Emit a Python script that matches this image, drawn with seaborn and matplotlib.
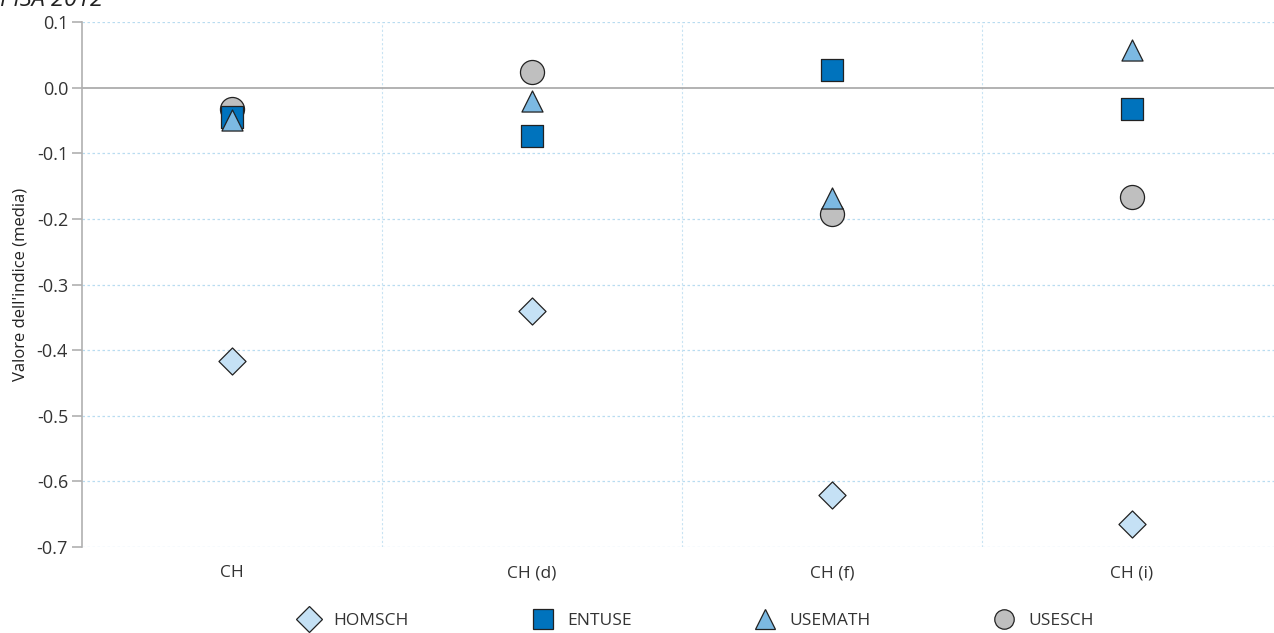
import matplotlib
matplotlib.use("Agg")
import matplotlib.pyplot as plt
import seaborn as sns
import pandas as pd
from matplotlib.lines import Line2D

categories = ["CH", "CH (d)", "CH (f)", "CH (i)"]
series = ["HOMSCH", "ENTUSE", "USEMATH", "USESCH"]
homsch = [-0.417, -0.340, -0.620, -0.665]
entuse = [-0.044, -0.073, 0.027, -0.032]
usemath = [-0.050, -0.020, -0.168, 0.058]
usesch = [-0.032, 0.024, -0.192, -0.166]
yticks = [0.1, 0.0, -0.1, -0.2, -0.3, -0.4, -0.5, -0.6, -0.7]

colors = {"HOMSCH": "#c5e1f5", "ENTUSE": "#0073bd", "USEMATH": "#7cb9e2", "USESCH": "#bfbfbf"}
markers = {"HOMSCH": "D", "ENTUSE": "s", "USEMATH": "^", "USESCH": "o"}
sizes = {"HOMSCH": 190, "ENTUSE": 230, "USEMATH": 230, "USESCH": 300}

rows = []
for name, vals in zip(series, [homsch, entuse, usemath, usesch]):
    for c, v in zip(categories, vals):
        rows.append({"cat": c, "serie": name, "val": v})
df = pd.DataFrame(rows)

sns.set_style("white")
plt.rcParams["font.family"] = ["Open Sans", "DejaVu Sans"]

fig = plt.figure(figsize=(12.74, 6.33), dpi=100)
ax = fig.add_axes([82/1274, 1 - 547/633, 1200/1274, (547 - 22)/633])

draw_order = ["HOMSCH", "USESCH", "ENTUSE", "USEMATH"]
for name in draw_order:
    sub = df[df["serie"] == name]
    sns.scatterplot(data=sub, x="cat", y="val", ax=ax, marker=markers[name],
                    color=colors[name], s=sizes[name], edgecolor="#222222",
                    linewidth=0.9, legend=False, zorder=3)

ax.set_xlim(-0.5, len(categories) - 0.5)
ax.set_ylim(-0.7, 0.1)
ax.set_yticks(yticks)
ax.set_yticklabels([f"{t:.1f}" for t in yticks])
ax.set_xticks(range(len(categories)))
ax.set_xticklabels(categories)
ax.set_xlabel("")
ax.set_ylabel("Valore dell'indice (media)", fontsize=12, color="#222222", labelpad=6)

for t in yticks:
    if abs(t) > 1e-9:
        ax.axhline(t, color="#b9dcf0", linestyle=(0, (2, 2)), linewidth=0.9, zorder=0)
ax.axhline(0.0, color="#a6a6a6", linewidth=1.2, zorder=1)
for b in [0.5, 1.5, 2.5]:
    ax.axvline(b, color="#c8e3f3", linestyle=(0, (2, 2)), linewidth=0.8, zorder=0)

for s in ["top", "right", "bottom"]:
    ax.spines[s].set_visible(False)
ax.spines["left"].set_color("#b0b0b0")
ax.spines["left"].set_linewidth(1.2)
ax.tick_params(axis="y", length=7, color="#b0b0b0", width=1.2, labelsize=13,
               labelcolor="#333333", left=True, pad=3)
ax.tick_params(axis="x", length=0, labelsize=12.5, labelcolor="#333333", pad=13)

fig.text(0.0, 1 - 6/633, "PISA 2012", fontsize=17, style="italic",
         ha="left", va="baseline", color="#222222")

handles = [Line2D([0], [0], marker=markers[n], linestyle="none", markersize=14 if n != "HOMSCH" else 13,
                  markerfacecolor=colors[n], markeredgecolor="#222222", markeredgewidth=0.9)
           for n in series]
fig.legend(handles, series, loc="center", bbox_to_anchor=(693/1274, 1 - 621/633),
           ncol=4, frameon=False, fontsize=12.5, columnspacing=6.7, handletextpad=0.4,
           labelcolor="#333333")

fig.savefig("out.png", dpi=100)
